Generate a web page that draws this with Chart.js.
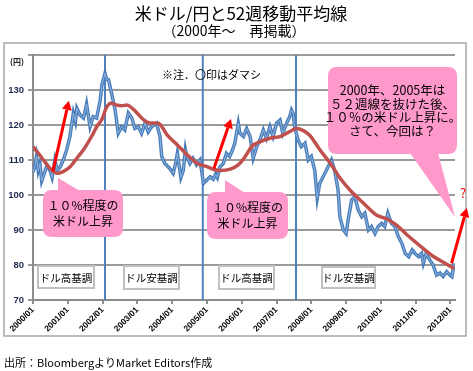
<!DOCTYPE html>
<html>
<head>
<meta charset="utf-8">
<script src="https://cdn.jsdelivr.net/npm/chart.js@4.4.1/dist/chart.umd.min.js"></script>
<style>
html, body { margin: 0; padding: 0; background: #fff; }
</style>
</head>
<body>
<canvas id="chart" width="473" height="371"></canvas>
<script>
// weekly-ish USD/JPY (decimal year, yen)
const usdDates = [
    2000.00, 2000.05, 2000.10, 2000.15, 2000.20, 2000.25, 2000.32, 2000.40, 2000.49, 2000.55,
    2000.63, 2000.70, 2000.78, 2000.87, 2000.97, 2001.06, 2001.16, 2001.22, 2001.26, 2001.35,
    2001.45, 2001.50, 2001.54, 2001.64, 2001.73, 2001.83, 2001.93, 2001.98, 2002.07, 2002.12,
    2002.17, 2002.26, 2002.36, 2002.45, 2002.55, 2002.64, 2002.74, 2002.84, 2002.93, 2003.03,
    2003.12, 2003.22, 2003.31, 2003.41, 2003.55, 2003.65, 2003.70, 2003.79, 2003.93, 2004.03,
    2004.10, 2004.15, 2004.25, 2004.32, 2004.38, 2004.42, 2004.51, 2004.60, 2004.70, 2004.80,
    2004.85, 2004.90, 2004.97, 2005.09, 2005.18, 2005.25, 2005.30, 2005.37, 2005.47, 2005.56,
    2005.65, 2005.72, 2005.80, 2005.90, 2005.95, 2006.05, 2006.14, 2006.24, 2006.33, 2006.43,
    2006.52, 2006.62, 2006.71, 2006.81, 2006.90, 2007.00, 2007.10, 2007.18, 2007.29, 2007.38,
    2007.43, 2007.48, 2007.52, 2007.62, 2007.71, 2007.82, 2007.91, 2008.00, 2008.10, 2008.17,
    2008.24, 2008.34, 2008.43, 2008.58, 2008.67, 2008.77, 2008.82, 2008.92, 2009.00, 2009.06,
    2009.16, 2009.25, 2009.35, 2009.45, 2009.54, 2009.64, 2009.73, 2009.83, 2009.92, 2010.02,
    2010.11, 2010.20, 2010.30, 2010.40, 2010.50, 2010.60, 2010.70, 2010.80, 2010.90, 2010.98,
    2011.08, 2011.17, 2011.22, 2011.30, 2011.41, 2011.50, 2011.60, 2011.70, 2011.79, 2011.89,
    2011.99, 2012.04, 2012.11
];
const usdJpy = [
    106.5, 108, 111, 107, 109, 104, 106, 108.5, 107, 105,
    110, 107, 108, 110, 113, 116.7, 123.4, 121, 124.8, 122.9,
    122, 124, 126, 119.5, 122.4, 122, 127, 131.4, 134.8, 133,
    132.9, 129, 124.3, 117.6, 119.5, 118.6, 123.4, 122, 119, 119.5,
    117.6, 120.5, 118, 119.5, 120.5, 116.7, 111, 109, 107.6, 106.2,
    109, 112, 105, 107, 113, 111, 109, 110.5, 108.6, 110,
    106.7, 103.3, 104, 105.2, 104.5, 106, 105, 108, 109, 111.9,
    111, 112.5, 114.8, 120.5, 117.6, 116.7, 119, 116.7, 110.5, 113.8,
    115.7, 118.6, 116.2, 119.5, 116.7, 120.5, 121.4, 117.6, 120.5, 122.4,
    124.3, 123.3, 119.5, 115.7, 113.8, 114.8, 110, 111, 107, 99.1,
    103.3, 105.2, 107, 110, 107, 101.4, 93.8, 90, 89, 92.9,
    98.6, 99.5, 95.7, 93.8, 94.8, 90, 91, 89, 91, 91.9,
    91, 94.8, 91.9, 91, 88.1, 86.2, 83.3, 82.4, 84.3, 83.3,
    82.4, 83.3, 80.5, 83.3, 81.4, 80, 77.1, 77.7, 76.7, 78.1,
    77.1, 76.7, 80.5
];

// 52-week moving average
const maDates = [
    2000.00, 2000.15, 2000.30, 2000.50, 2000.70, 2000.85, 2001.06, 2001.30, 2001.45, 2001.70,
    2001.83, 2002.00, 2002.10, 2002.25, 2002.40, 2002.55, 2002.70, 2002.85, 2003.03, 2003.20,
    2003.35, 2003.60, 2003.86, 2004.15, 2004.44, 2004.73, 2005.00, 2005.20, 2005.40, 2005.65,
    2005.90, 2006.10, 2006.30, 2006.52, 2006.81, 2007.10, 2007.38, 2007.57, 2007.77, 2007.96,
    2008.24, 2008.53, 2008.85, 2009.15, 2009.40, 2009.64, 2009.87, 2010.16, 2010.45, 2010.74,
    2011.12, 2011.50, 2011.79, 2012.11
];
const maValues = [
    113.8, 112, 110, 107.5, 106.2, 106.6, 108, 111, 112.9, 117,
    119.5, 122, 124.8, 126.2, 125.7, 125.5, 125.7, 124.8, 123, 121.3,
    120.6, 120.5, 117.1, 114.3, 111.4, 109, 108.1, 107.3, 107, 107.3,
    108.6, 111, 114, 115.2, 116.2, 116.7, 118.1, 119, 118.4, 117,
    113, 109.3, 104.5, 101, 98.6, 96.3, 94.3, 93.2, 91.4, 88.7,
    85.5, 82.5, 80.8, 79
];

const yearTicks = [2000, 2001, 2002, 2003, 2004, 2005, 2006, 2007, 2008, 2009, 2010, 2011, 2012];
const breakYears = [2002.07, 2004.88, 2007.56];   // blue vertical lines
const yTicks = [70, 80, 90, 100, 110, 120, 130, 140];

// red arrows [fromYear, fromYen, toYear, toYen]
const arrows = [
    [2000.57, 106.7, 2001.03, 126.9],
    [2005.20, 107.6, 2005.69, 121.7],
    [2012.03, 80.5, 2012.47, 96.3]
];

const JP = '"Noto Sans CJK JP", "Noto Sans", sans-serif';

function roundRect(ctx, x, y, w, h, r) {
    ctx.beginPath();
    ctx.moveTo(x + r, y);
    ctx.lineTo(x + w - r, y);
    ctx.quadraticCurveTo(x + w, y, x + w, y + r);
    ctx.lineTo(x + w, y + h - r);
    ctx.quadraticCurveTo(x + w, y + h, x + w - r, y + h);
    ctx.lineTo(x + r, y + h);
    ctx.quadraticCurveTo(x, y + h, x, y + h - r);
    ctx.lineTo(x, y + r);
    ctx.quadraticCurveTo(x, y, x + r, y);
    ctx.closePath();
}

function callout(ctx, box, tri, lines, size, lineGap) {
    ctx.fillStyle = "#ff99cc";
    roundRect(ctx, box[0], box[1], box[2], box[3], 9);
    ctx.fill();
    ctx.beginPath();
    ctx.moveTo(tri[0][0], tri[0][1]);
    ctx.lineTo(tri[1][0], tri[1][1]);
    ctx.lineTo(tri[2][0], tri[2][1]);
    ctx.closePath();
    ctx.fill();
    ctx.fillStyle = "#000";
    ctx.font = size + "px " + JP;
    ctx.textAlign = "center";
    ctx.textBaseline = "middle";
    const cx = box[0] + box[2] / 2;
    const top = box[1] + box[3] / 2 - (lines.length - 1) * lineGap / 2;
    lines.forEach((t, i) => ctx.fillText(t, cx, top + i * lineGap));
}

function trendLabel(ctx, x, y, w, h, text) {
    ctx.fillStyle = "#fff";
    ctx.fillRect(x, y, w, h);
    ctx.strokeStyle = "#c0c0c0";
    ctx.lineWidth = 2;
    ctx.strokeRect(x, y, w, h);
    ctx.fillStyle = "#000";
    ctx.font = "10.5px " + JP;
    ctx.textAlign = "center";
    ctx.textBaseline = "middle";
    ctx.fillText(text, x + w / 2, y + h / 2 + 1);
}

const overlay = {
    id: "overlay",
    beforeDraw(chart) {
        const ctx = chart.ctx;
        ctx.save();
        ctx.fillStyle = "#fff";
        ctx.fillRect(0, 0, chart.width, chart.height);
        ctx.strokeStyle = "#a6a6a6";
        ctx.lineWidth = 1.5;
        ctx.strokeRect(4, 43, 462, 293);

        ctx.fillStyle = "#000";
        ctx.textAlign = "center";
        ctx.textBaseline = "middle";
        ctx.font = "17px " + JP;
        ctx.fillText("米ドル/円と52週移動平均線", 241, 14);
        ctx.font = "14px " + JP;
        ctx.fillText("（2000年～　再掲載）", 234, 31);

        ctx.textAlign = "left";
        ctx.font = "11px " + JP;
        ctx.fillText("出所：BloombergよりMarket Editors作成", 4, 363);
        ctx.restore();
    },
    afterDatasetsDraw(chart) {
        const ctx = chart.ctx;
        const sx = chart.scales.x, sy = chart.scales.y;
        ctx.save();

        // arrows
        ctx.strokeStyle = "#ff0000";
        ctx.fillStyle = "#ff0000";
        ctx.lineWidth = 3;
        arrows.forEach(a => {
            const x1 = sx.getPixelForValue(a[0]), y1 = sy.getPixelForValue(a[1]);
            const x2 = sx.getPixelForValue(a[2]), y2 = sy.getPixelForValue(a[3]);
            const ang = Math.atan2(y2 - y1, x2 - x1);
            const hl = 9, hw = 5;
            const bx = x2 - hl * Math.cos(ang), by = y2 - hl * Math.sin(ang);
            ctx.beginPath();
            ctx.moveTo(x1, y1);
            ctx.lineTo(bx, by);
            ctx.stroke();
            ctx.beginPath();
            ctx.moveTo(x2, y2);
            ctx.lineTo(bx + hw * Math.sin(ang), by - hw * Math.cos(ang));
            ctx.lineTo(bx - hw * Math.sin(ang), by + hw * Math.cos(ang));
            ctx.closePath();
            ctx.fill();
        });
        ctx.font = "13px " + JP;
        ctx.textAlign = "center";
        ctx.textBaseline = "middle";
        ctx.fillText("?", 463, 193);

        // callouts
        callout(ctx, [43, 190, 80, 47], [[58, 178], [58, 191], [80, 191]],
            ["１０%程度の", "米ドル上昇"], 12, 16);
        callout(ctx, [207, 192, 81, 47], [[225, 180], [225, 193], [245, 193]],
            ["１０%程度の", "米ドル上昇"], 12, 16);
        callout(ctx, [328, 67, 129, 87], [[410, 153], [438, 153], [455, 217]],
            ["2000年、2005年は", "５２週線を抜けた後、", "１０％の米ドル上昇に。", "さて、今回は？"], 12.5, 13.5);

        // trend labels
        trendLabel(ctx, 38, 266, 56, 22, "ドル高基調");
        trendLabel(ctx, 124, 266, 55, 23, "ドル安基調");
        trendLabel(ctx, 219, 266, 55, 23, "ドル高基調");
        trendLabel(ctx, 322, 267, 53, 21, "ドル安基調");

        ctx.fillStyle = "#000";
        ctx.textAlign = "left";
        ctx.font = "11px " + JP;
        ctx.fillText("※注．〇印はダマシ", 162, 75);

        ctx.fillStyle = "#fff";
        ctx.fillRect(8, 56, 22, 12);
        ctx.fillStyle = "#222";
        ctx.font = "bold 8px " + JP;
        ctx.textAlign = "center";
        ctx.fillText("(円)", 17, 62);
        ctx.restore();
    }
};

const toPoints = (xs, ys) => xs.map((x, i) => ({x, y: ys[i]}));

const datasets = [
    {
        data: toPoints(maDates, maValues),
        borderColor: "#c0504d",
        borderWidth: 3.5,
        cubicInterpolationMode: "monotone",
        pointRadius: 0,
        order: 0
    },
    {
        // light core of the rate line
        data: toPoints(usdDates, usdJpy),
        borderColor: "#8fb2dd",
        borderWidth: 1,
        pointRadius: 0,
        order: 1
    },
    {
        data: toPoints(usdDates, usdJpy),
        borderColor: "#4a7ebb",
        borderWidth: 3.5,
        pointRadius: 0,
        order: 2
    }
];
breakYears.forEach(yr => datasets.push({
    data: [{x: yr, y: 70}, {x: yr, y: 140}],
    borderColor: "#4f81bd",
    borderWidth: 2,
    pointRadius: 0,
    order: 3
}));

new Chart(document.getElementById("chart"), {
    type: "line",
    data: {datasets},
    plugins: [overlay],
    options: {
        responsive: false,
        animation: false,
        devicePixelRatio: 1,
        layout: {padding: {left: 0, top: 55, right: 18, bottom: 35}},
        plugins: {legend: {display: false}, tooltip: {enabled: false}},
        scales: {
            x: {
                type: "linear",
                min: 2000,
                max: 2012.13,
                afterBuildTicks: s => { s.ticks = yearTicks.map(v => ({value: v})); },
                afterFit: s => { s.height = 36; s.paddingLeft = 0; s.paddingRight = 0; },
                ticks: {
                    autoSkip: false,
                    minRotation: 45,
                    maxRotation: 45,
                    padding: 1,
                    color: "#000",
                    font: {family: "Liberation Sans, Arial, sans-serif", size: 8.5, weight: "bold"},
                    callback: v => v + "/01"
                },
                grid: {display: true, drawOnChartArea: false, drawTicks: true, tickLength: 4, color: "#8c8c8c", lineWidth: 2},
                border: {color: "#8c8c8c", width: 2}
            },
            y: {
                min: 70,
                max: 140,
                afterBuildTicks: s => { s.ticks = yTicks.map(v => ({value: v})); },
                afterFit: s => { s.width = 33; },
                ticks: {
                    padding: 4,
                    color: "#1f2a4f",
                    font: {family: "Liberation Sans, Arial, sans-serif", size: 9.5, weight: "bold"},
                    callback: v => v === 140 ? "" : v
                },
                grid: {color: "#9a9a9a", lineWidth: 2, tickLength: 5, drawTicks: true},
                border: {color: "#8c8c8c", width: 2}
            }
        }
    }
});
</script>
</body>
</html>
